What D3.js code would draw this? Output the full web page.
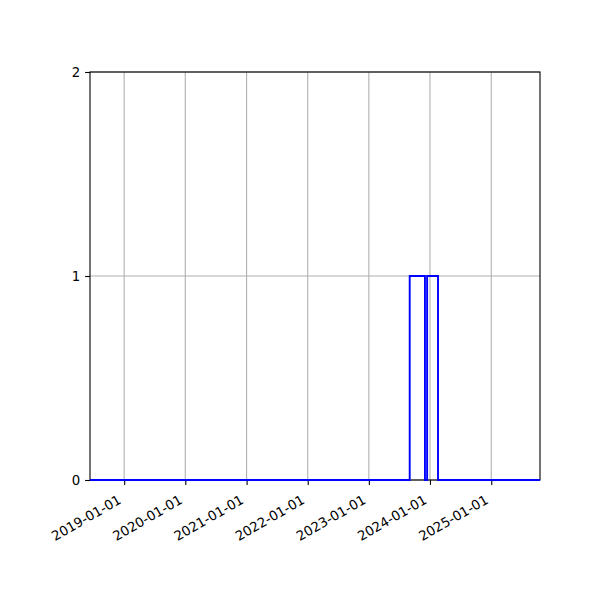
<!DOCTYPE html>
<html>
<head>
<meta charset="utf-8">
<script src="https://cdn.jsdelivr.net/npm/d3@7"></script>
<style>
  html, body { margin: 0; padding: 0; background: #fff; }
  svg { display: block; }
  text { font-family: "DejaVu Sans", sans-serif; font-size: 13.33px; fill: #000; }
</style>
</head>
<body>
<svg id="chart" width="600" height="600"></svg>
<script>
// ---- data ----
const xDomainDates = ["2018-06-11", "2025-10-19"];
const binEdges = ["2023-09-02", "2023-12-02", "2023-12-15", "2024-02-18"];
const binCounts = [1, 0, 1];
const xTickDates = ["2019-01-01", "2020-01-01", "2021-01-01", "2022-01-01", "2023-01-01", "2024-01-01", "2025-01-01"];
const yTicks = [0, 1, 2];

// ---- layout ----
const W = 600, H = 600;
const m = { left: 90, right: 60, top: 72, bottom: 120 };
const svg = d3.select("#chart");
const parse = d3.utcParse("%Y-%m-%d");
const fmt = d3.utcFormat("%Y-%m-%d");

const x = d3.scaleUtc()
  .domain(xDomainDates.map(parse))
  .range([m.left, W - m.right]);
const y = d3.scaleLinear()
  .domain([0, 2])
  .range([H - m.bottom, m.top]);

svg.append("rect").attr("width", W).attr("height", H).attr("fill", "#fff");

// grid
const grid = svg.append("g");
grid.selectAll("line.gx").data(xTickDates.map(parse)).join("line")
  .attr("x1", d => x(d)).attr("x2", d => x(d))
  .attr("y1", m.top).attr("y2", H - m.bottom)
  .attr("stroke", "#b0b0b0").attr("stroke-width", 1.1);
grid.selectAll("line.gy").data(yTicks).join("line")
  .attr("x1", m.left).attr("x2", W - m.right)
  .attr("y1", d => y(d)).attr("y2", d => y(d))
  .attr("stroke", "#b0b0b0").attr("stroke-width", 1.1);

// step histogram points
const pts = [];
const d0 = parse(xDomainDates[0]), d1 = parse(xDomainDates[1]);
pts.push([d0, 0]);
const edges = binEdges.map(parse);
pts.push([edges[0], 0]);
binCounts.forEach((c, i) => {
  pts.push([edges[i], c]);
  pts.push([edges[i + 1], c]);
});
pts.push([edges[edges.length - 1], 0]);
pts.push([d1, 0]);
const line = d3.line().x(d => x(d[0])).y(d => y(d[1]));

// axes
const xAxis = d3.axisBottom(x)
  .tickValues(xTickDates.map(parse))
  .tickFormat(fmt)
  .tickSize(4.9).tickPadding(4.9);
const gx = svg.append("g").attr("transform", `translate(0,${H - m.bottom})`).call(xAxis);
gx.select(".domain").remove();
gx.selectAll(".tick line").attr("stroke", "#000").attr("stroke-width", 1.1);
gx.selectAll(".tick text")
  .attr("y", 0).attr("dy", null)
  .attr("text-anchor", "end")
  .attr("transform", "translate(-2.5,22.5) rotate(-30)")
  .style("font-family", "'DejaVu Sans', sans-serif")
  .style("font-size", "13.33px");

const yAxis = d3.axisLeft(y)
  .tickValues(yTicks)
  .tickFormat(d3.format("d"))
  .tickSize(4.9).tickPadding(4.9);
const gy = svg.append("g").attr("transform", `translate(${m.left},0)`).call(yAxis);
gy.select(".domain").remove();
gy.selectAll(".tick line").attr("stroke", "#000").attr("stroke-width", 1.1);
gy.selectAll(".tick text")
  .style("font-family", "'DejaVu Sans', sans-serif")
  .style("font-size", "13.33px");

// frame
svg.append("rect")
  .attr("x", m.left).attr("y", m.top)
  .attr("width", W - m.left - m.right).attr("height", H - m.top - m.bottom)
  .attr("fill", "none").attr("stroke", "#000").attr("stroke-width", 1.1);

// histogram outline (on top, blue over the bottom spine as in reference)
svg.append("path").datum(pts)
  .attr("d", line)
  .attr("fill", "none")
  .attr("stroke", "#0000ff")
  .attr("stroke-width", 1.9);
</script>
</body>
</html>
